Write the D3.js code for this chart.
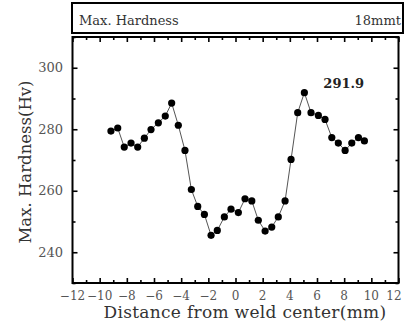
<!DOCTYPE html>
<html>
<head>
<meta charset="utf-8">
<script src="https://cdn.jsdelivr.net/npm/d3@7"></script>
<style>
  html, body { margin: 0; padding: 0; background: #fff; }
  svg { display: block; }
  text { font-family: "DejaVu Serif", "Liberation Serif", serif; }
</style>
</head>
<body>
<svg id="chart" width="404" height="331"></svg>
<script>
// Hardness profile across the weld (18 mm plate)
const distance = [
  -9.17, -8.67, -8.19, -7.69, -7.20, -6.71, -6.22, -5.68, -5.17, -4.70,
  -4.21, -3.72, -3.25, -2.78, -2.29, -1.80, -1.34, -0.82, -0.33, 0.21,
  0.70, 1.20, 1.68, 2.18, 2.67, 3.15, 3.65, 4.09, 4.58, 5.07,
  5.56, 6.10, 6.59, 7.09, 7.57, 8.07, 8.56, 9.05, 9.49
];
const hardness = [
  279.4, 280.4, 274.2, 275.5, 274.2, 277.1, 279.9, 282.1, 284.3, 288.5,
  281.3, 273.1, 260.4, 254.9, 252.3, 245.5, 247.1, 251.5, 254.0, 252.9,
  257.4, 256.7, 250.4, 246.9, 248.2, 251.5, 256.7, 270.2, 285.4, 291.9,
  285.4, 284.5, 283.2, 277.3, 275.5, 273.1, 275.5, 277.3, 276.2
];
const xTickValues = [-12, -10, -8, -6, -4, -2, 0, 2, 4, 6, 8, 10, 12];
const yTickValues = [240, 260, 280, 300];
const peakLabel = "291.9";
const titleLeft = "Max. Hardness";
const titleRight = "18mmt";
const xTitle = "Distance from weld center(mm)";
const yTitle = "Max. Hardness(Hv)";

const W = 404;
const svg = d3.select("#chart");
const plot = { left: 72.5, right: 398.5, top: 37, bottom: 283 };

const x = d3.scaleLinear().domain([-12, 12]).range([plot.left, plot.right]);
const y = d3.scaleLinear().domain([230, 310]).range([plot.bottom, plot.top]);

// Header box
svg.append("rect")
  .attr("x", 72).attr("y", 3).attr("width", 331).attr("height", 30)
  .attr("fill", "#fff").attr("stroke", "#000").attr("stroke-width", 2);
svg.append("text").attr("x", 79).attr("y", 24.5)
  .attr("font-size", 13).attr("fill", "#333").text(titleLeft);
svg.append("text").attr("x", 401).attr("y", 24.5).attr("text-anchor", "end")
  .attr("font-size", 13).attr("fill", "#333").text(titleRight);

// Inward ticks on all four sides (major with labels, minor between)
const xMinor = d3.range(-11, 12, 2);
const yMinor = [230, 250, 270, 290, 310];
function tickAxis(axisFn, scale, values, size) {
  return axisFn(scale).tickValues(values).tickSize(size).tickFormat("");
}
const axes = [
  [d3.axisTop, x, xTickValues, 5, `translate(0,${plot.bottom})`],
  [d3.axisTop, x, xMinor, 3, `translate(0,${plot.bottom})`],
  [d3.axisBottom, x, xTickValues, 5, `translate(0,${plot.top})`],
  [d3.axisBottom, x, xMinor, 3, `translate(0,${plot.top})`],
  [d3.axisRight, y, yTickValues, 5, `translate(${plot.left},0)`],
  [d3.axisRight, y, yMinor, 3, `translate(${plot.left},0)`],
  [d3.axisLeft, y, yTickValues, 5, `translate(${plot.right},0)`],
  [d3.axisLeft, y, yMinor, 3, `translate(${plot.right},0)`]
];
axes.forEach(([fn, sc, vals, size, tr]) => {
  const g = svg.append("g").attr("transform", tr).call(tickAxis(fn, sc, vals, size));
  g.select(".domain").remove();
  g.selectAll("line").attr("stroke", "#000").attr("stroke-width", 1.6);
});

// Tick labels
const fmt = v => v < 0 ? "\u2212" + Math.abs(v) : String(v);
svg.append("g").selectAll("text").data(xTickValues).join("text")
  .attr("x", d => Math.min(x(d), W - 10)).attr("y", 300).attr("text-anchor", "middle")
  .attr("font-size", 12).attr("fill", "#555").text(fmt);
svg.append("g").selectAll("text").data(yTickValues).join("text")
  .attr("x", 63).attr("y", d => y(d) + 4.5).attr("text-anchor", "end")
  .attr("font-size", 13).attr("fill", "#555").text(fmt);

// Frame
svg.append("rect")
  .attr("x", plot.left).attr("y", plot.top)
  .attr("width", plot.right - plot.left).attr("height", plot.bottom - plot.top)
  .attr("fill", "none").attr("stroke", "#000").attr("stroke-width", 2);

// Axis titles
svg.append("text").attr("x", 245).attr("y", 318)
  .attr("text-anchor", "middle").attr("font-size", 17).attr("letter-spacing", 0.3)
  .attr("fill", "#333").text(xTitle);
svg.append("text")
  .attr("transform", `translate(31,${(plot.top + plot.bottom) / 2 + 2}) rotate(-90)`)
  .attr("text-anchor", "middle").attr("font-size", 16.5).attr("fill", "#333").text(yTitle);

// Profile line and markers
const pts = distance.map((d, i) => [d, hardness[i]]);
svg.append("path").datum(pts)
  .attr("fill", "none").attr("stroke", "#555").attr("stroke-width", 1)
  .attr("d", d3.line().x(d => x(d[0])).y(d => y(d[1])));
svg.append("g").selectAll("circle").data(pts).join("circle")
  .attr("cx", d => x(d[0])).attr("cy", d => y(d[1])).attr("r", 3.6)
  .attr("fill", "#000");

// Peak value annotation
const peakIdx = d3.maxIndex(hardness);
svg.append("text")
  .attr("x", x(distance[peakIdx]) + 19).attr("y", y(hardness[peakIdx]) - 5)
  .attr("font-size", 13).attr("font-weight", "bold").attr("fill", "#222")
  .text(peakLabel);
</script>
</body>
</html>
